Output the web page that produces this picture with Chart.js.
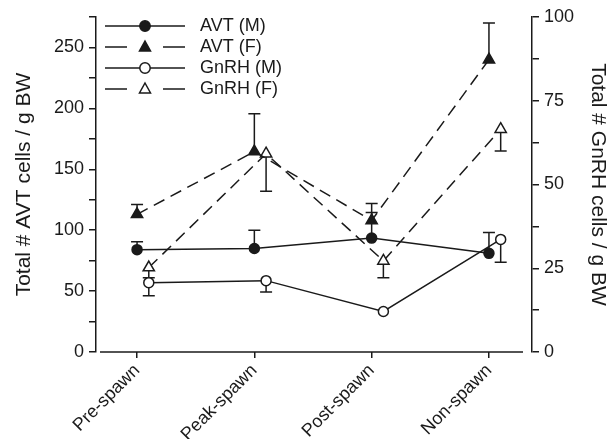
<!DOCTYPE html>
<html>
<head>
<meta charset="utf-8">
<script src="https://cdn.jsdelivr.net/npm/chart.js@4.4.1/dist/chart.umd.min.js"></script>
<style>
  html, body { margin: 0; padding: 0; background: #fff; }
  #wrap { width: 614px; height: 439px; }
</style>
</head>
<body>
<div id="wrap"><canvas id="chart"></canvas></div>
<script>
// data
const stages = ["Pre-spawn", "Peak-spawn", "Post-spawn", "Non-spawn"];
const avtMale = [84, 85, 93.5, 81];
const avtMaleErr = [6.5, 15, 21, 17];
const avtFemale = [113, 164.5, 108, 240];
const avtFemaleErr = [8, 31, 14, 30];
const gnrhMale = [20.7, 21.3, 12.1, 33.6];
const gnrhMaleErr = [3.9, 3.4, 0, 6.8];
const gnrhFemale = [25.2, 59.2, 27.2, 66.5];
const gnrhFemaleErr = [3, 11.2, 5, 6.5];
const avtTickLabels = [0, 50, 100, 150, 200, 250];
const gnrhTickLabels = [0, 25, 50, 75, 100];

const ink = "#1a1a1a";
const gnrhShift = 0.1; // GnRH points sit a little right of the AVT ones
Chart.defaults.font.family = "'Liberation Sans', Arial, sans-serif";
Chart.defaults.color = ink;

function pts(vals, shift) {
  return vals.map((v, i) => ({ x: i + shift, y: v }));
}

function legendIcon(dashed, fill, shape) {
  let c = document.createElement("canvas");
  c.width = 82;
  c.height = 16;
  let g = c.getContext("2d");
  g.strokeStyle = ink;
  g.lineWidth = 1.5;
  g.beginPath();
  if (dashed) {
    g.moveTo(1, 8); g.lineTo(23, 8);
    g.moveTo(59, 8); g.lineTo(81, 8);
  } else {
    g.moveTo(1, 8); g.lineTo(81, 8);
  }
  g.stroke();
  g.fillStyle = fill;
  g.beginPath();
  if (shape == "circle") {
    g.arc(41, 8, 5.2, 0, Math.PI * 2);
  } else {
    g.moveTo(41, 2); g.lineTo(46.5, 12); g.lineTo(35.5, 12); g.closePath();
  }
  g.fill();
  g.stroke();
  return c;
}

const icons = [
  legendIcon(false, ink, "circle"),
  legendIcon(true, ink, "triangle"),
  legendIcon(false, "#fff", "circle"),
  legendIcon(true, "#fff", "triangle"),
];

const errorBars = {
  id: "errorBars",
  beforeDatasetsDraw(chart) {
    let ctx = chart.ctx;
    chart.data.datasets.forEach((ds, di) => {
      let meta = chart.getDatasetMeta(di);
      let scale = chart.scales[ds.yAxisID];
      ctx.save();
      ctx.strokeStyle = ink;
      ctx.lineWidth = 1.5;
      meta.data.forEach((pt, i) => {
        let e = ds.err[i];
        if (!e) return;
        let y2 = scale.getPixelForValue(ds.data[i].y + ds.errDir * e);
        ctx.beginPath();
        ctx.moveTo(pt.x, pt.y);
        ctx.lineTo(pt.x, y2);
        ctx.moveTo(pt.x - 6, y2);
        ctx.lineTo(pt.x + 6, y2);
        ctx.stroke();
      });
      ctx.restore();
    });
  },
};

// x axis line is drawn a bit shorter than the plot, leaving gaps at the y axes
const xAxisLine = {
  id: "xAxisLine",
  beforeDatasetsDraw(chart) {
    let a = chart.chartArea;
    let ctx = chart.ctx;
    ctx.save();
    ctx.strokeStyle = ink;
    ctx.lineWidth = 1.5;
    ctx.beginPath();
    ctx.moveTo(a.left + 4, a.bottom);
    ctx.lineTo(a.right - 9, a.bottom);
    ctx.stroke();
    ctx.restore();
  },
};

function makeSet(label, vals, err, dir, axis, shift, dashed, fill, style, r) {
  return {
    label: label,
    data: pts(vals, shift),
    err: err,
    errDir: dir,
    yAxisID: axis,
    borderColor: ink,
    borderWidth: 1.5,
    borderDash: dashed ? [12, 7] : [],
    pointStyle: style,
    pointRadius: r,
    pointBorderWidth: 1.5,
    pointBorderColor: ink,
    pointBackgroundColor: fill,
    backgroundColor: fill,
    fill: false,
    tension: 0,
    clip: false,
  };
}

new Chart(document.getElementById("chart"), {
  type: "line",
  data: {
    datasets: [
      makeSet("AVT (M)", avtMale, avtMaleErr, 1, "y", 0, false, ink, "circle", 5),
      makeSet("AVT (F)", avtFemale, avtFemaleErr, 1, "y", 0, true, ink, "triangle", 6.5),
      makeSet("GnRH (M)", gnrhMale, gnrhMaleErr, -1, "y1", gnrhShift, false, "#fff", "circle", 5),
      makeSet("GnRH (F)", gnrhFemale, gnrhFemaleErr, -1, "y1", gnrhShift, true, "#fff", "triangle", 6.5),
    ],
  },
  options: {
    responsive: true,
    maintainAspectRatio: false,
    animation: false,
    layout: { padding: { top: 17, left: 0, right: 0, bottom: 0 } },
    plugins: {
      legend: {
        position: "chartArea",
        align: "start",
        // empty title only used as a spacer to push the rows down
        title: { display: true, text: "", padding: 0, font: { size: 14, lineHeight: 1 } },
        labels: {
          usePointStyle: true,
          pointStyleWidth: 92,
          padding: 3,
          textAlign: "left",
          color: ink,
          font: { size: 18 },
          generateLabels: (chart) =>
            Chart.defaults.plugins.legend.labels
              .generateLabels(chart)
              .map((it, i) => Object.assign(it, { pointStyle: icons[i] })),
        },
      },
      tooltip: { enabled: false },
    },
    scales: {
      x: {
        type: "linear",
        min: -0.35,
        max: 3.367,
        afterBuildTicks: (s) => {
          s.ticks = stages.map((_, i) => ({ value: i }));
        },
        afterFit: (s) => {
          s.height = 87;
        },
        border: { display: false },
        grid: { drawOnChartArea: false, tickLength: 6, color: ink, lineWidth: 1.5 },
        ticks: {
          autoSkip: false,
          minRotation: 45,
          maxRotation: 45,
          padding: 2,
          color: ink,
          font: { size: 18 },
          callback: (v) => stages[v],
        },
      },
      y: {
        position: "left",
        min: 0,
        max: 275,
        afterFit: (s) => {
          s.width = 96;
        },
        border: { display: true, color: ink, width: 1.5 },
        grid: { drawOnChartArea: false, tickLength: 7, color: ink, lineWidth: 1.5 },
        ticks: {
          stepSize: 25,
          padding: 5,
          color: ink,
          font: { size: 18 },
          callback: (v) => (avtTickLabels.includes(v) ? v : ""),
        },
        title: {
          display: true,
          text: "Total # AVT cells / g BW",
          color: ink,
          font: { size: 21 },
          padding: { top: 12, bottom: 0 },
        },
      },
      y1: {
        position: "right",
        min: 0,
        max: 100,
        afterFit: (s) => {
          s.width = 82;
        },
        border: { display: true, color: ink, width: 1.5 },
        grid: { drawOnChartArea: false, tickLength: 7, color: ink, lineWidth: 1.5 },
        ticks: {
          stepSize: 12.5,
          padding: 5,
          color: ink,
          font: { size: 18 },
          callback: (v) => (gnrhTickLabels.includes(v) ? v : ""),
        },
        title: {
          display: true,
          text: "Total # GnRH cells / g BW",
          color: ink,
          font: { size: 21 },
          padding: { top: 4, bottom: 0 },
        },
      },
    },
  },
  plugins: [errorBars, xAxisLine],
});
</script>
</body>
</html>
